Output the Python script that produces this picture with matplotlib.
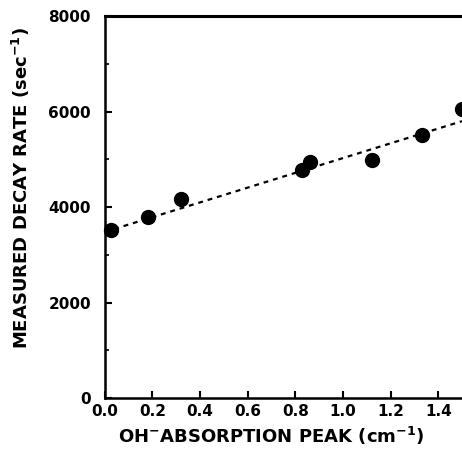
import numpy as np
import matplotlib
matplotlib.use("Agg")
import matplotlib.pyplot as plt
from matplotlib.ticker import MultipleLocator

# OH- absorption peak (cm^-1) vs measured decay rate (sec^-1)
oh_peak = [0.025, 0.18, 0.32, 0.83, 0.86, 1.12, 1.33, 1.50]
decay_rate = [3530, 3790, 4160, 4780, 4950, 4990, 5500, 6050]

# dashed fit line end points
fit_x = [0.0, 1.5]
fit_y = [3480, 5800]

plt.rcParams['font.family'] = ['DejaVu Sans']
plt.rcParams['mathtext.default'] = 'bf'

fig = plt.figure(figsize=(4.62, 4.62), dpi=100)
ax = fig.add_axes([0.227, 0.1385, 0.773, 0.8265])

ax.plot(fit_x, fit_y, color="black", linestyle=(0, (2.2, 2.2)), linewidth=1.6, zorder=2)
ax.plot(oh_peak, decay_rate, "o", color="black", markersize=10, zorder=3, clip_on=False)

ax.set_xlim(0, 1.5)
ax.set_ylim(0, 8000)
ax.xaxis.set_major_locator(MultipleLocator(0.2))
ax.yaxis.set_major_locator(MultipleLocator(2000))
ax.yaxis.set_minor_locator(MultipleLocator(1000))
ax.xaxis.set_major_formatter(plt.FuncFormatter(lambda v, p: f"{v:.1f}"))

ax.tick_params(axis="both", which="major", direction="in", length=5, width=1.5,
               labelsize=11)
ax.tick_params(axis="x", which="major", pad=4)
ax.tick_params(axis="y", which="major", pad=10)
ax.tick_params(axis="y", which="minor", direction="in", length=3, width=1.2)
ax.tick_params(top=False, right=False)
for lab in ax.get_xticklabels() + ax.get_yticklabels():
    lab.set_fontweight("bold")

ax.spines["right"].set_visible(False)
ax.spines["left"].set_linewidth(1.8)
ax.spines["bottom"].set_linewidth(1.8)
ax.spines["top"].set_linewidth(2.2)

ax.set_xlabel("OH$^{-}$ABSORPTION PEAK (cm$^{-1}$)", fontsize=13, fontweight="bold")
ax.set_ylabel("MEASURED DECAY RATE (sec$^{-1}$)", fontsize=13, fontweight="bold")
ax.xaxis.set_label_coords(0.465, -0.07)
ax.yaxis.set_label_coords(-0.205, 0.55)

fig.savefig("out.png", dpi=100)
